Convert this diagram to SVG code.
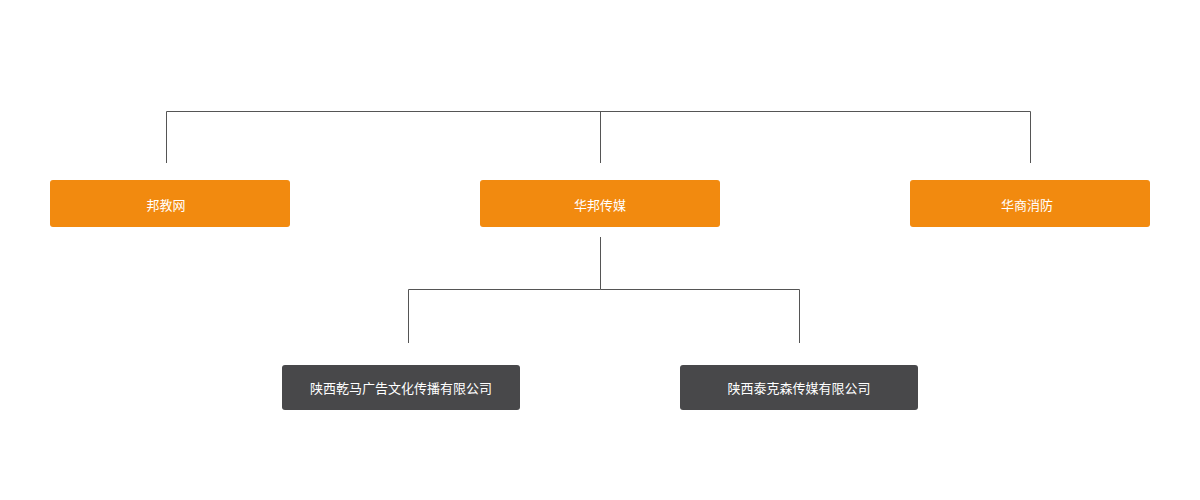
<svg xmlns="http://www.w3.org/2000/svg" width="1200" height="500" viewBox="0 0 1200 500">
<style>
.o{fill:#f28a0f}.d{fill:#48484a}
text{fill:#fff;font-family:"Noto Sans CJK SC",sans-serif;font-size:13px;text-anchor:middle;dominant-baseline:central}
.c{stroke:#555;stroke-width:1;fill:none}
</style>
<rect width="1200" height="500" fill="#fff"/>
<g id="connectors" class="c">
<path d="M166.5 163V111.5H1030.5V163M600.5 111.5V163"/>
<path d="M600.5 237V289.5H408.5V343M600.5 289.5H799.5V343"/>
</g>
<g id="n1"><rect class="o" x="50" y="180" width="240" height="47" rx="3"/><text x="166" y="204">邦教网</text></g>
<g id="n2"><rect class="o" x="480" y="180" width="240" height="47" rx="3"/><text x="600" y="204">华邦传媒</text></g>
<g id="n3"><rect class="o" x="910" y="180" width="240" height="47" rx="3"/><text x="1027" y="204">华商消防</text></g>
<g id="n4"><rect class="d" x="282" y="365" width="238" height="45" rx="3"/><text x="401" y="387">陕西乾马广告文化传播有限公司</text></g>
<g id="n5"><rect class="d" x="680" y="365" width="238" height="45" rx="3"/><text x="799" y="387">陕西泰克森传媒有限公司</text></g>
</svg>
